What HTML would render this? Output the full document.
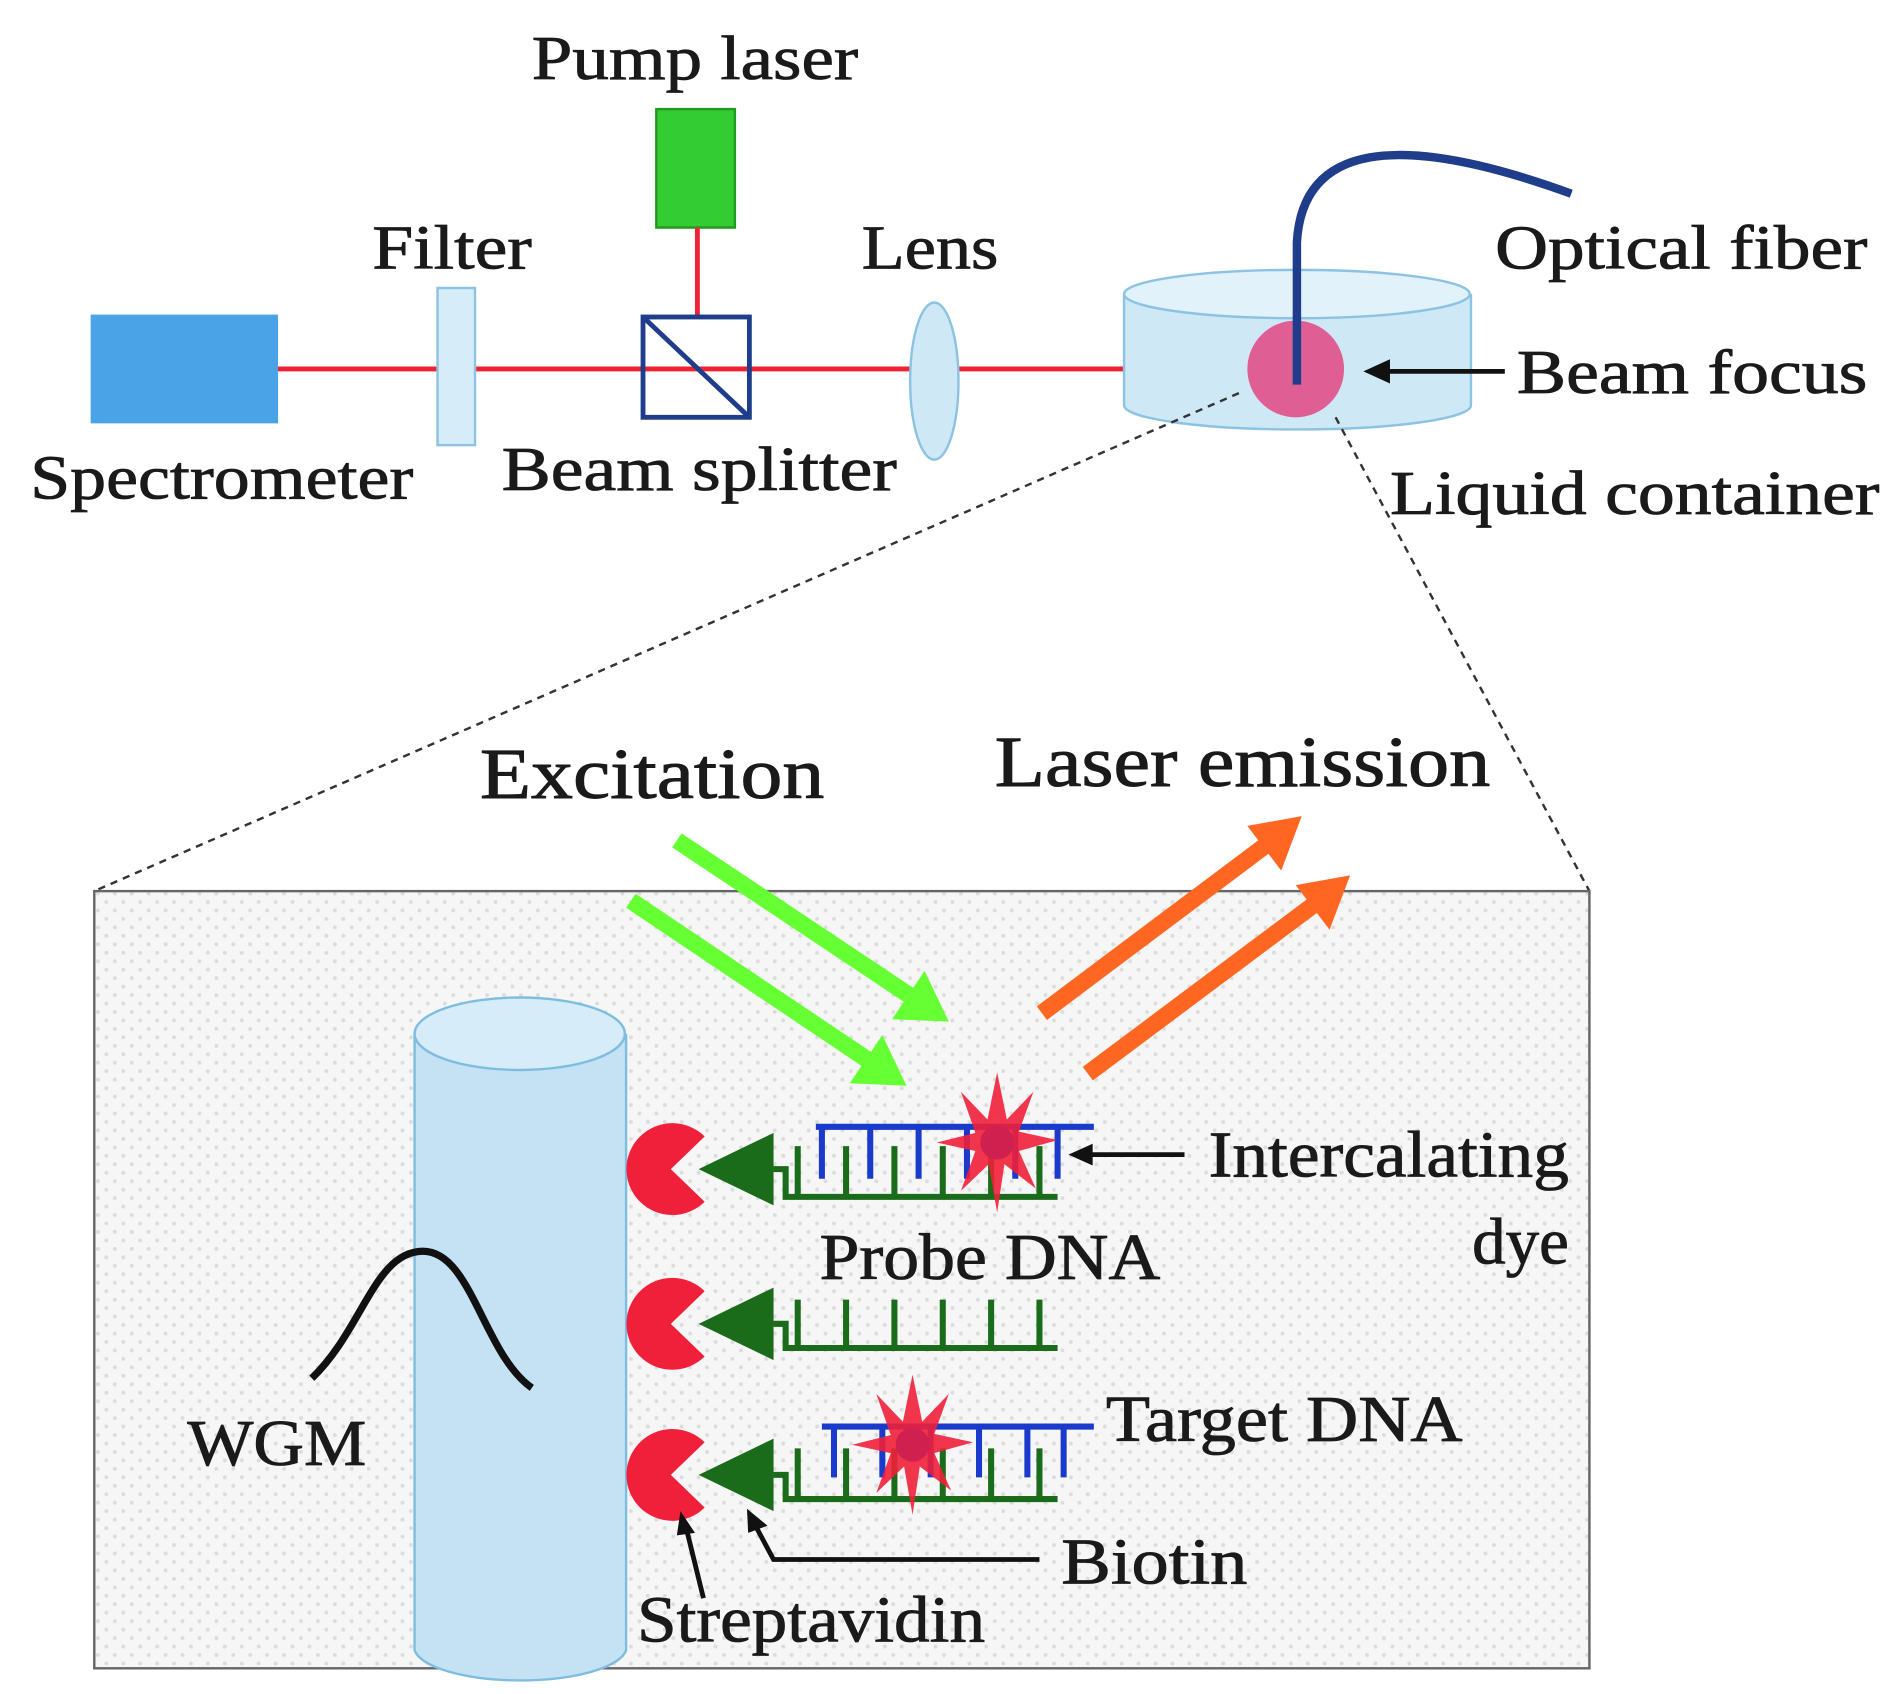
<!DOCTYPE html>
<html><head><meta charset="utf-8"><style>html,body{margin:0;padding:0;background:#fff}svg{display:block}</style></head><body>
<svg width="1894" height="1694" viewBox="0 0 1567 1401" xmlns="http://www.w3.org/2000/svg" font-family="Liberation Serif, serif" fill="#1a1a1a">
<defs>
<pattern id="dots" width="14" height="14" patternUnits="userSpaceOnUse"><rect width="14" height="14" fill="#f6f6f6"/><circle cx="4" cy="4" r="1.6" fill="#dcdcdc"/><circle cx="11" cy="11" r="1.6" fill="#dcdcdc"/></pattern>
<g id="star"><polygon fill="#f0203a" opacity="0.9" points="0,-58 8,-19 30,-42 18,-9 50,-2 18,7 32,38 6,18 0,58 -7,18 -30,40 -18,7 -50,0 -18,-8 -30,-42 -8,-19"/><circle r="14" fill="#d02050"/></g>
</defs>
<!-- top setup -->
<rect x="543" y="90" width="65" height="98" fill="#33cc33" stroke="#229922" stroke-width="2"/>
<line x1="577" y1="188" x2="577" y2="262" stroke="#ee2233" stroke-width="4"/>
<line x1="230" y1="305" x2="1075" y2="305" stroke="#ee2233" stroke-width="4"/>
<rect x="75" y="260" width="155" height="90" fill="#4aa3e6"/>
<rect x="362" y="238" width="31" height="130" fill="#d6ecf8" stroke="#8cc3e3" stroke-width="2"/>
<rect x="532" y="262" width="88" height="83" fill="none" stroke="#1f3d8a" stroke-width="4"/>
<line x1="532" y1="262" x2="620" y2="345" stroke="#1f3d8a" stroke-width="4"/>
<ellipse cx="773" cy="315" rx="20" ry="65" fill="#cfe8f6" stroke="#8cc3e3" stroke-width="2"/>
<path d="M930 243 L930 335 A143 20 0 0 0 1217 335 L1217 243" fill="#cfe8f6" stroke="#8cc3e3" stroke-width="2"/>
<ellipse cx="1073" cy="243" rx="143" ry="20" fill="#e2f2fb" stroke="#8cc3e3" stroke-width="2"/>
<circle cx="1072" cy="305" r="40" fill="#e0508a" opacity="0.9"/>
<path d="M1073 318 L1073 200 Q1080 80 1300 160" fill="none" stroke="#1f3d8a" stroke-width="7"/>
<line x1="1245" y1="307" x2="1145" y2="307" stroke="#111" stroke-width="4"/>
<polygon points="1128,307 1150,297 1150,317" fill="#111"/>
<g font-size="52" stroke="#1a1a1a" stroke-width="0.7" lengthAdjust="spacingAndGlyphs">
<text x="440" y="65" textLength="270" lengthAdjust="spacingAndGlyphs">Pump laser</text>
<text x="308" y="222" textLength="132" lengthAdjust="spacingAndGlyphs">Filter</text>
<text x="713" y="222" textLength="113" lengthAdjust="spacingAndGlyphs">Lens</text>
<text x="1237" y="222" textLength="308" lengthAdjust="spacingAndGlyphs">Optical fiber</text>
<text x="1255" y="325" textLength="290" lengthAdjust="spacingAndGlyphs">Beam focus</text>
<text x="25" y="412" textLength="317" lengthAdjust="spacingAndGlyphs">Spectrometer</text>
<text x="415" y="405" textLength="327" lengthAdjust="spacingAndGlyphs">Beam splitter</text>
<text x="1150" y="425" textLength="405" lengthAdjust="spacingAndGlyphs">Liquid container</text>
</g>
<line x1="1025" y1="325" x2="78" y2="737" stroke="#333" stroke-width="2" stroke-dasharray="6,5"/>
<line x1="1105" y1="345" x2="1315" y2="737" stroke="#333" stroke-width="2" stroke-dasharray="6,5"/>
<!-- box -->
<rect x="78" y="737" width="1237" height="643" fill="url(#dots)" stroke="#666" stroke-width="2"/>
<g font-size="60" stroke="#1a1a1a" stroke-width="0.8">
<text x="397" y="660" textLength="285" lengthAdjust="spacingAndGlyphs">Excitation</text>
<text x="823" y="650" textLength="410" lengthAdjust="spacingAndGlyphs">Laser emission</text>
</g>
<g stroke="#66ff33" stroke-width="14"><line x1="560" y1="695" x2="755" y2="825"/><line x1="522" y1="745" x2="720" y2="878"/></g>
<polygon points="785,845 738,843 765,803" fill="#66ff33"/>
<polygon points="750,898 703,896 730,856" fill="#66ff33"/>
<g stroke="#ff6622" stroke-width="14"><line x1="862" y1="838" x2="1050" y2="697"/><line x1="900" y1="888" x2="1090" y2="746"/></g>
<polygon points="1077,675 1060,720 1032,683" fill="#ff6622"/>
<polygon points="1117,724 1100,769 1072,732" fill="#ff6622"/>
<path d="M343 855 L343 1365 A88 28 0 0 0 518 1365 L518 855" fill="#c4e2f4" stroke="#7fbde0" stroke-width="2"/>
<ellipse cx="430" cy="855" rx="87" ry="30" fill="#d6ecf8" stroke="#7fbde0" stroke-width="2"/>
<path d="M258 1140 C300 1100 310 1035 350 1035 C390 1035 400 1120 440 1148" fill="none" stroke="#111" stroke-width="6"/>
<!-- rows -->
<path d="M555 967 L583 940 A38 38 0 1 0 583 994 Z" fill="#f0203a"/>
<polygon points="578,967 640,937 640,997" fill="#1a6b1a"/>
<path d="M640 967 L650 967 L650 990 L875 990 M660 990 V948 M700 990 V948 M740 990 V948 M780 990 V948 M820 990 V948 M860 990 V948" fill="none" stroke="#1a6b1a" stroke-width="5"/>
<path d="M675 932 L905 932 M680 932 V975 M720 932 V975 M760 932 V975 M800 932 V975 M840 932 V975 M875 932 V975" fill="none" stroke="#1a3acc" stroke-width="5"/>
<use href="#star" x="825" y="945"/>
<path d="M555 1095 L583 1068 A38 38 0 1 0 583 1122 Z" fill="#f0203a"/>
<polygon points="578,1095 640,1065 640,1125" fill="#1a6b1a"/>
<path d="M640 1095 L650 1095 L650 1115 L875 1115 M660 1115 V1075 M700 1115 V1075 M740 1115 V1075 M780 1115 V1075 M820 1115 V1075 M860 1115 V1075" fill="none" stroke="#1a6b1a" stroke-width="5"/>
<path d="M555 1220 L583 1193 A38 38 0 1 0 583 1247 Z" fill="#f0203a"/>
<polygon points="578,1220 640,1190 640,1250" fill="#1a6b1a"/>
<path d="M640 1220 L650 1220 L650 1240 L875 1240 M660 1240 V1198 M700 1240 V1198 M740 1240 V1198 M780 1240 V1198 M820 1240 V1198 M860 1240 V1198" fill="none" stroke="#1a6b1a" stroke-width="5"/>
<path d="M680 1180 L905 1180 M690 1180 V1222 M730 1180 V1222 M770 1180 V1222 M810 1180 V1222 M850 1180 V1222 M880 1180 V1222" fill="none" stroke="#1a3acc" stroke-width="5"/>
<use href="#star" x="755" y="1195"/>
<!-- labels -->
<line x1="980" y1="955" x2="900" y2="955" stroke="#111" stroke-width="4"/>
<polygon points="884,955 904,946 904,964" fill="#111"/>
<path d="M860 1290 L640 1290 L625 1262" fill="none" stroke="#111" stroke-width="4"/>
<polygon points="618,1248 635,1262 619,1268" fill="#111"/>
<path d="M582 1322 L568 1265" fill="none" stroke="#111" stroke-width="4"/>
<polygon points="563,1250 575,1268 560,1270" fill="#111"/>
<g font-size="54" stroke="#1a1a1a" stroke-width="0.7">
<text x="155" y="1212" textLength="148" lengthAdjust="spacingAndGlyphs">WGM</text>
<text x="1000" y="973" textLength="298" lengthAdjust="spacingAndGlyphs">Intercalating</text>
<text x="1218" y="1045" textLength="80" lengthAdjust="spacingAndGlyphs">dye</text>
<text x="678" y="1058" textLength="282" lengthAdjust="spacingAndGlyphs">Probe DNA</text>
<text x="915" y="1192" textLength="295" lengthAdjust="spacingAndGlyphs">Target DNA</text>
<text x="878" y="1310" textLength="154" lengthAdjust="spacingAndGlyphs">Biotin</text>
<text x="527" y="1358" textLength="288" lengthAdjust="spacingAndGlyphs">Streptavidin</text>
</g>
</svg>
</body></html>
